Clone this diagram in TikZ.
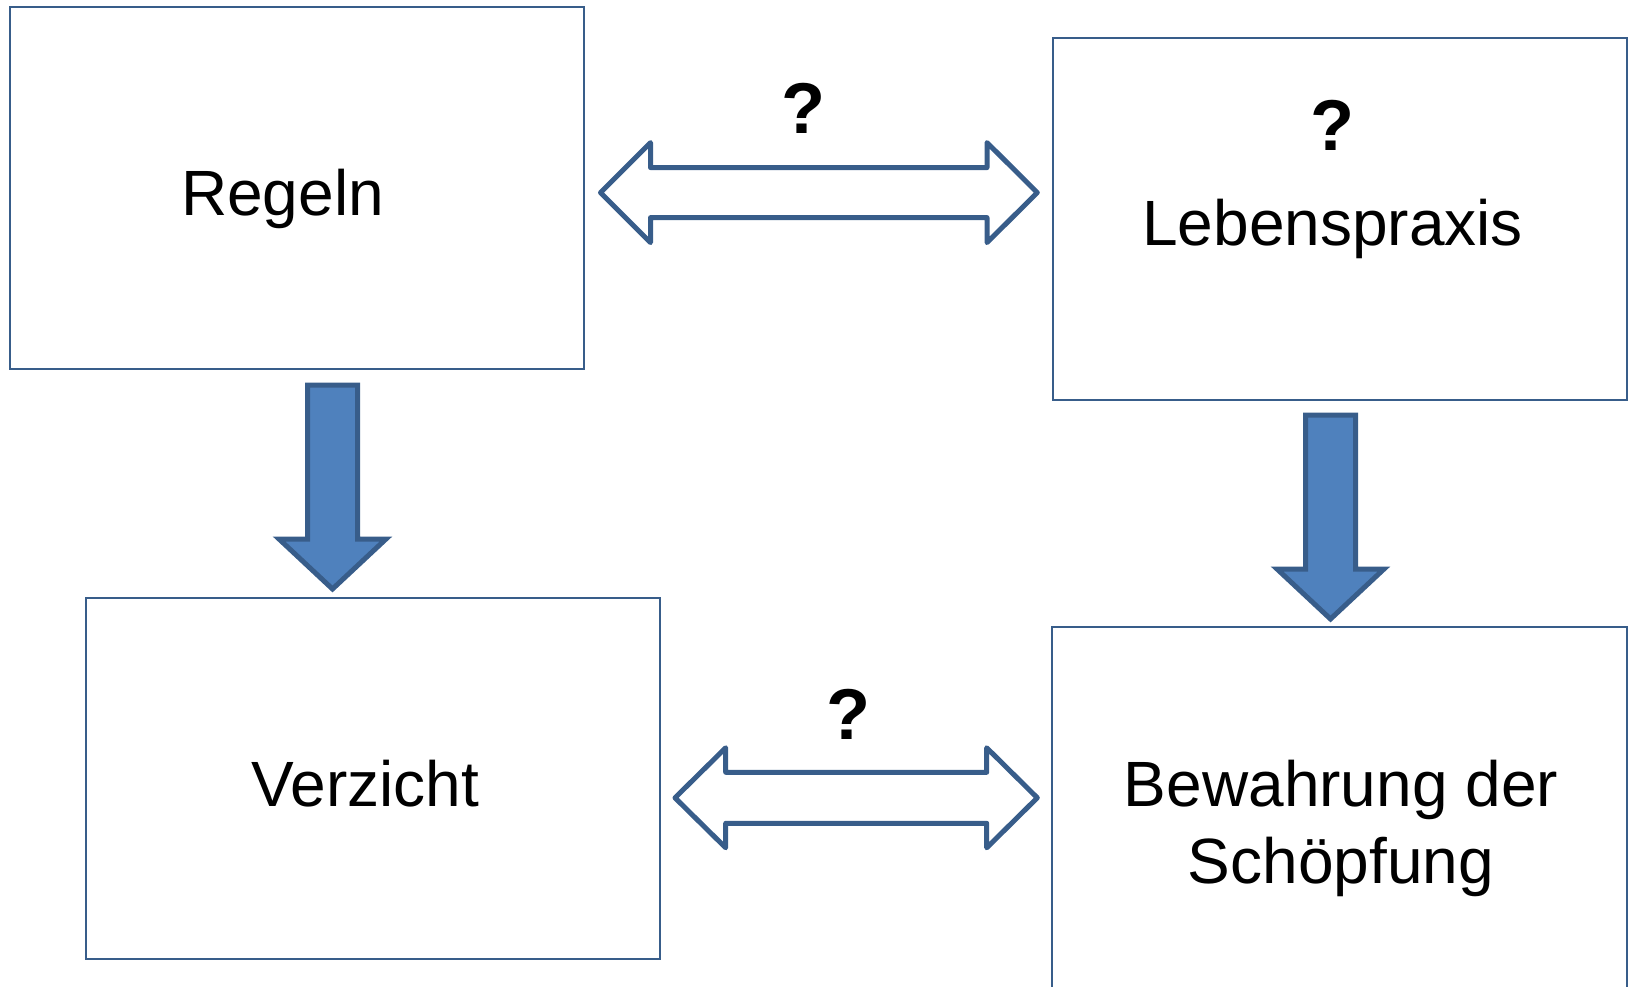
\documentclass[tikz,border=0pt]{standalone}
\usepackage{fontspec}
\setmainfont{Liberation Sans}
\definecolor{edgeblue}{RGB}{56,93,138}
\definecolor{fillblue}{RGB}{79,129,189}
\begin{document}
\begin{tikzpicture}[x=1pt,y=-1pt,
  box/.style={draw=edgeblue,line width=2pt,fill=white,rectangle,anchor=north west,inner sep=0pt},
  lbl/.style={font=\fontsize{64}{77}\selectfont,anchor=base,inner sep=0pt,align=center},
  qm/.style={font=\fontsize{72}{80}\selectfont\bfseries,anchor=base,inner sep=0pt},
  downarrow/.style={draw=edgeblue,fill=fillblue,line width=5pt,line join=miter},
  dblarrow/.style={draw=edgeblue,fill=white,line width=5pt,line join=round}]
\useasboundingbox (0,0) rectangle (1628,987);
% boxes
\node[box,minimum width=574pt,minimum height=362pt] (regeln) at (9,6) {};
\node[box,minimum width=574pt,minimum height=362pt] (leben) at (1052,37) {};
\node[box,minimum width=574pt,minimum height=361pt] (verzicht) at (85,597) {};
\node[box,minimum width=575pt,minimum height=364pt] (bewahr) at (1051,626) {};
% texts
\node[lbl] (tregeln) at (282.5,216) {Regeln};
\node[qm] (qleben) at (1332,150.5) {?};
\node[lbl] (tleben) at (1332.6,246) {Lebenspraxis};
\node[lbl] (tverzicht) at (365.5,806.5) {Verzicht};
\node[lbl] (tbewahra) at (1341,806.7) {Bewahrung der};
\node[lbl] (tbewahrb) at (1341,883.6) {Schöpfung};
\node[qm] (qtop) at (803,134) {?};
\node[qm] (qbot) at (848,739) {?};
% down arrows
\draw[downarrow] (307.5,385) -- (357.5,385) -- (357.5,539) -- (386,539) -- (332.5,589)
  -- (279,539) -- (307.5,539) -- cycle;
\draw[downarrow] (1305.5,415) -- (1355.5,415) -- (1355.5,569) -- (1384,569) -- (1330.5,619)
  -- (1277,569) -- (1305.5,569) -- cycle;
% double arrows
\draw[dblarrow] (600.5,192.6) -- (650.5,142.6) -- (650.5,167.6) -- (987,167.6) -- (987,142.6)
  -- (1037.3,192.6) -- (987,242.6) -- (987,217.6) -- (650.5,217.6) -- (650.5,242.6) -- cycle;
\draw[dblarrow] (675,797.8) -- (725.7,747.8) -- (725.7,772.3) -- (986.7,772.3) -- (986.7,747.8)
  -- (1037.3,797.8) -- (986.7,847.8) -- (986.7,823.3) -- (725.7,823.3) -- (725.7,847.8) -- cycle;
\end{tikzpicture}
\end{document}
